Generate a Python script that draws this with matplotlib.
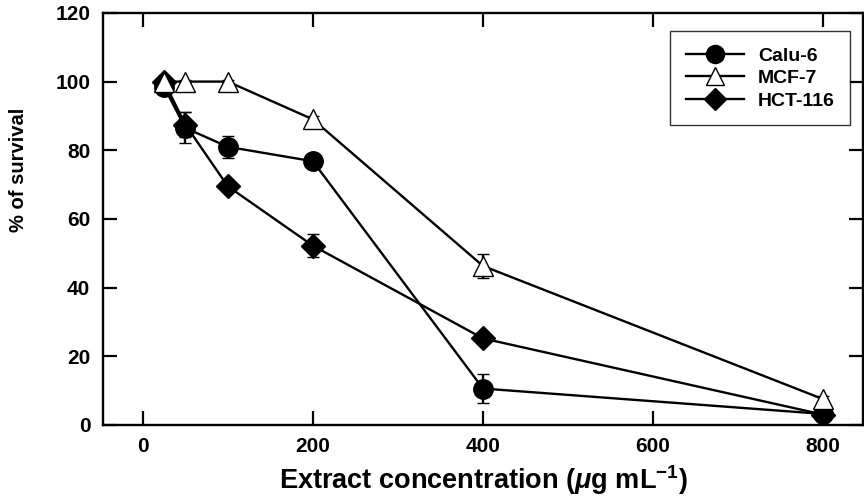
import matplotlib
matplotlib.use("Agg")
import matplotlib.pyplot as plt
from matplotlib.lines import Line2D

plt.rcParams['font.family'] = ['Liberation Sans', 'DejaVu Sans']
plt.rcParams['mathtext.fontset'] = 'custom'
plt.rcParams['mathtext.rm'] = 'Liberation Sans:bold'
plt.rcParams['mathtext.bf'] = 'Liberation Sans:bold'
plt.rcParams['mathtext.it'] = 'Liberation Sans:bold:italic'
plt.rcParams['mathtext.default'] = 'rm'

conc = [25, 50, 100, 200, 400, 800]
calu6 = [98.5, 86.5, 81.0, 76.8, 10.6, 3.2]
calu6_err = [1.0, 4.5, 3.2, 1.0, 4.3, 1.0]
mcf7 = [100.0, 100.0, 100.0, 89.0, 46.3, 7.5]
mcf7_err = [0.5, 0.5, 0.5, 1.0, 3.5, 0.8]
hct116 = [100.0, 87.5, 69.5, 52.2, 25.2, 3.0]
hct116_err = [0.5, 3.5, 1.0, 3.3, 1.0, 0.5]

labels = ['Calu-6', 'MCF-7', 'HCT-116']
xticks = [0, 200, 400, 600, 800]
yticks = [0, 20, 40, 60, 80, 100, 120]

fig = plt.figure(figsize=(8.64, 4.97), dpi=100)
ax = fig.add_axes([0.119, 0.145, 0.880, 0.829])

lw = 1.7
common = dict(color='black', linewidth=lw, capsize=4.5, elinewidth=1.7, capthick=1.7,
              markeredgecolor='black', markeredgewidth=1.0)
styles = [dict(marker='o', markersize=14, markerfacecolor='black'),
          dict(marker='^', markersize=14, markerfacecolor='white'),
          dict(marker='D', markersize=12, markerfacecolor='black')]
series = [(calu6, calu6_err), (mcf7, mcf7_err), (hct116, hct116_err)]
zorders = [3, 4, 3]
for (vals, errs), st, z in zip(series, styles, zorders):
    ax.errorbar(conc, vals, yerr=errs, zorder=z, **st, **common)

ax.set_xlim(-47, 847)
ax.set_ylim(0, 120)
ax.set_xticks(xticks)
ax.set_yticks(yticks)
ax.tick_params(direction='in', top=True, right=True, length=10, width=1.6,
               labelsize=15, pad=9)
for lab in ax.get_xticklabels() + ax.get_yticklabels():
    lab.set_fontweight('bold')
for s in ax.spines.values():
    s.set_linewidth(1.7)

ax.set_xlabel(r'Extract concentration ($\mathit{\mu}$g mL$^{-1}$)',
              fontsize=19.5, fontweight='bold', labelpad=5)
ax.set_ylabel('% of survival', fontsize=14.5, fontweight='bold')
ax.yaxis.set_label_coords(-0.098, 0.62)

handles = []
for st in styles:
    s2 = dict(st)
    s2['markersize'] = st['markersize'] - 1
    handles.append(Line2D([], [], color='black', linewidth=lw,
                          markeredgecolor='black', markeredgewidth=1.0, **s2))
leg = ax.legend(handles, labels, loc='upper right', bbox_to_anchor=(0.983, 0.955),
                frameon=True, fancybox=False, edgecolor='black',
                handlelength=3.0, borderpad=0.8, labelspacing=0.25,
                handletextpad=0.7, borderaxespad=0.0,
                prop={'weight': 'bold', 'size': 14})
leg.get_frame().set_linewidth(1.0)

fig.savefig('out.png', dpi=100)
